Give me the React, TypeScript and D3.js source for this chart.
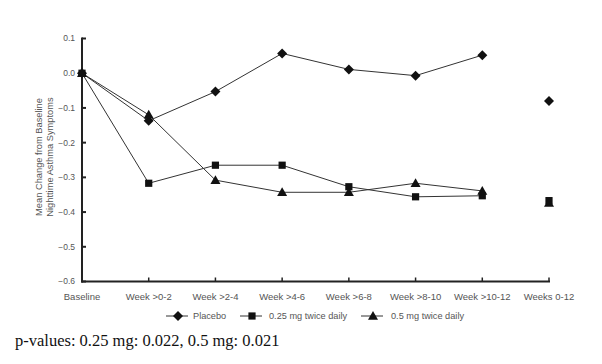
import React from "react";
import * as d3 from "d3";

const categories = ["Baseline", "Week >0-2", "Week >2-4", "Week >4-6", "Week >6-8", "Week >8-10", "Week >10-12", "Weeks 0-12"];
const placebo = [0, -0.137, -0.053, 0.057, 0.011, -0.007, 0.052, -0.08];
const mg025 = [0, -0.317, -0.265, -0.265, -0.327, -0.356, -0.353, -0.367];
const mg05 = [0, -0.12, -0.308, -0.343, -0.343, -0.317, -0.339, -0.374];
const yTicks = [0.1, 0, -0.1, -0.2, -0.3, -0.4, -0.5, -0.6];
const seriesNames = ["Placebo", "0.25 mg twice daily", "0.5 mg twice daily"];

const W = 602, H = 364;
const x0 = 82;
const yScale = d3.scaleLinear().domain([-0.6, 0.1]).range([281.5, 38.5]);
const xScale = d3.scalePoint<string>().domain(categories).range([x0, 549]);

const lineColor = "#333";
const textColor = "#555";

function Marker({ type, x, y }: { type: string; x: number; y: number }) {
  if (type === "diamond") {
    const s = 5;
    return <path d={`M${x},${y - s}L${x + s},${y}L${x},${y + s}L${x - s},${y}Z`} fill="#111" />;
  }
  if (type === "square") {
    const s = 3.6;
    return <rect x={x - s} y={y - s} width={2 * s} height={2 * s} fill="#111" />;
  }
  const s = 5;
  return <path d={`M${x},${y - s}L${x + s},${y + s * 0.75}L${x - s},${y + s * 0.75}Z`} fill="#111" />;
}

export default function App() {
  const series = [
    { name: seriesNames[0], vals: placebo, type: "diamond" },
    { name: seriesNames[1], vals: mg025, type: "square" },
    { name: seriesNames[2], vals: mg05, type: "triangle" },
  ];
  const line = d3
    .line<number>()
    .x((_, i) => xScale(categories[i]) as number)
    .y((v) => yScale(v));
  const legendItems = [
    { x: 178, tx: 193, type: "diamond" },
    { x: 252, tx: 269, type: "square" },
    { x: 373, tx: 391, type: "triangle" },
  ];
  const font = "Arial, 'Liberation Sans', sans-serif";
  const yBottom = yScale(-0.6);
  return (
    <svg width={W} height={H} style={{ position: "absolute", left: 0, top: 0, background: "#fff" }} fontFamily={font}>
      <line x1={x0} x2={x0} y1={yScale(0.1) - 1} y2={yBottom + 1} stroke="#222" strokeWidth={2} />
      <line x1={x0 - 1} x2={550} y1={yBottom} y2={yBottom} stroke="#222" strokeWidth={2} />
      {yTicks.map((t) => (
        <g key={t}>
          <line x1={x0} x2={x0 + 4} y1={yScale(t)} y2={yScale(t)} stroke="#222" strokeWidth={2} />
          <text x={x0 - 7} y={yScale(t)} dy="0.35em" textAnchor="end" fontSize={8.5} fill={textColor}>
            {t === 0 ? "0.0" : d3.format(".1f")(t)}
          </text>
        </g>
      ))}
      {categories.map((c, i) => (
        <g key={c}>
          {i > 0 && (
            <line x1={xScale(c)} x2={xScale(c)} y1={yBottom} y2={yBottom - 4} stroke="#222" strokeWidth={1.5} />
          )}
          <text x={xScale(c) as number} y={297} dy="0.35em" textAnchor="middle" fontSize={9.5} fill={textColor}>
            {c}
          </text>
        </g>
      ))}
      <text transform={`translate(43,157) rotate(-90)`} textAnchor="middle" fontSize={9.3} fill={textColor}>
        <tspan x={0} dy="-0.1em">Mean Change from Baseline</tspan>
        <tspan x={0} dy="1.15em">Nighttime Asthma Symptoms</tspan>
      </text>
      {series.map((s) => (
        <g key={s.name}>
          <path d={line(s.vals.slice(0, 7)) || ""} fill="none" stroke={lineColor} strokeWidth={1} />
          {s.vals.map((v, i) => (
            <Marker key={i} type={s.type} x={xScale(categories[i]) as number} y={yScale(v)} />
          ))}
        </g>
      ))}
      {legendItems.map((l, i) => (
        <g key={i}>
          <line x1={l.x - 12} x2={l.x + 10} y1={316} y2={316} stroke={lineColor} strokeWidth={1} />
          <Marker type={l.type} x={l.x} y={316} />
          <text x={l.tx} y={316} dy="0.35em" fontSize={9.2} fill={textColor}>
            {seriesNames[i]}
          </text>
        </g>
      ))}
      <text x={15} y={346} fontFamily="'Liberation Serif', 'Times New Roman', serif" fontSize={16.5} fill="#111">
        p-values: 0.25 mg: 0.022, 0.5 mg: 0.021
      </text>
    </svg>
  );
}
